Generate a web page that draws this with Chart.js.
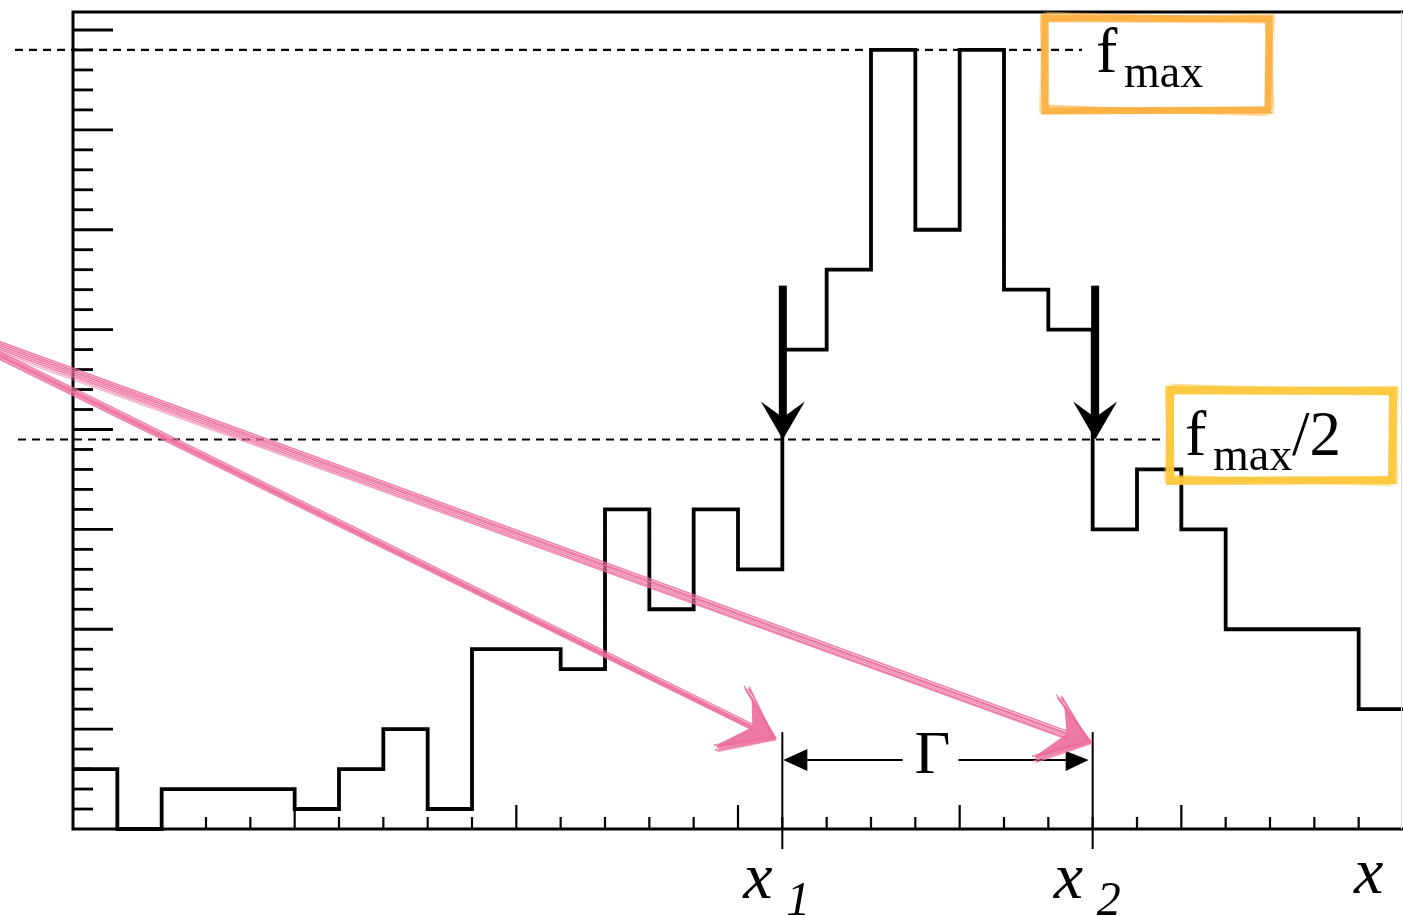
<!DOCTYPE html>
<html>
<head>
<meta charset="utf-8">
<script src="https://cdn.jsdelivr.net/npm/chart.js@4/dist/chart.umd.min.js"></script>
<style>
  html, body { margin: 0; padding: 0; background: #fff; overflow: hidden; }
  canvas { display: block; }
</style>
</head>
<body>
<canvas id="hist" width="1403" height="916"></canvas>
<script>
// Histogram contents, one count per unit-wide bin starting at x = 0
const counts = [3, 0, 2, 2, 2, 1, 3, 5, 1, 9, 9, 8, 16, 11, 16, 13, 24, 28, 39, 30, 39, 27, 25, 15, 18, 15, 10, 10, 10, 6];
// Where the histogram crosses half of its maximum
const crossings = [16, 23];
const crossingLabels = ['1', '2'];
// Axis ranges
const xRange = [0, 30];
const yRange = [0, 40.9];
// Tick spacing (minor step, major every n minor)
const xTickStep = 1, xMajorEvery = 5;
const yTickStep = 1, yMajorEvery = 5;

const fMax = Math.max(...counts);
const fHalf = fMax / 2;

// Step points: each bin value is held until the next edge
const points = counts.map((v, i) => ({ x: xRange[0] + i, y: v }));
points.push({ x: xRange[0] + counts.length, y: counts[counts.length - 1] });

const SERIF = '"Liberation Serif", "DejaVu Serif", serif';
const PINK = '#ec6e9f';

// Hand-drawn looking rectangle: one heavy stroke plus a few loose passes
function sketchRect(ctx, x0, y0, x1, y1, color, width, passes) {
  ctx.save();
  ctx.strokeStyle = color;
  ctx.lineJoin = 'miter';
  ctx.globalAlpha = 0.95;
  ctx.lineWidth = width;
  ctx.beginPath();
  ctx.moveTo(x0, y0); ctx.lineTo(x1, y0 + 1); ctx.lineTo(x1 - 1, y1); ctx.lineTo(x0, y1 + 1); ctx.closePath();
  ctx.stroke();
  passes.forEach(([a, b, c, d, w, al]) => {
    ctx.lineWidth = w;
    ctx.globalAlpha = al;
    ctx.beginPath();
    ctx.moveTo(x0 + a, y0 + b);
    ctx.lineTo(x1 + c, y0 + d);
    ctx.lineTo(x1 + d, y1 + c);
    ctx.lineTo(x0 + b, y1 + a);
    ctx.closePath();
    ctx.stroke();
  });
  ctx.restore();
}

function sketchStroke(ctx, x0, y0, x1, y1, offs) {
  offs.forEach(([a, b, w, al]) => {
    ctx.globalAlpha = al;
    ctx.lineWidth = w;
    ctx.beginPath();
    ctx.moveTo(x0, y0 + a);
    ctx.lineTo(x1, y1 + b);
    ctx.stroke();
  });
  ctx.globalAlpha = 1;
}

function pinkArrow(ctx, start, tip, barbTop, barbBot, notch, offs) {
  ctx.save();
  ctx.strokeStyle = PINK;
  ctx.fillStyle = PINK;
  ctx.lineCap = 'round';
  sketchStroke(ctx, start[0], start[1], notch[0], notch[1], offs);
  // head
  ctx.globalAlpha = 0.92;
  ctx.beginPath();
  ctx.moveTo(tip[0], tip[1]);
  ctx.lineTo(barbTop[0], barbTop[1]);
  ctx.lineTo(barbTop[0] + 4, barbTop[1] + 2);
  ctx.lineTo(notch[0], notch[1]);
  ctx.lineTo(barbBot[0] + 2, barbBot[1] - 4);
  ctx.lineTo(barbBot[0], barbBot[1]);
  ctx.closePath();
  ctx.fill();
  ctx.lineWidth = 1.6;
  ctx.globalAlpha = 0.75;
  [[-2, 1], [2, -1], [0, 3], [-3, -2], [3, 2]].forEach(([dx, dy]) => {
    ctx.beginPath();
    ctx.moveTo(barbTop[0] + dx, barbTop[1] + dy);
    ctx.lineTo(tip[0] + dy * 0.5, tip[1] + dx * 0.5);
    ctx.lineTo(barbBot[0] + dy, barbBot[1] + dx);
    ctx.stroke();
  });
  ctx.restore();
}

const decorations = {
  id: 'decorations',
  afterDraw(chart) {
    const ctx = chart.ctx;
    const a = chart.chartArea;
    const X = v => chart.scales.x.getPixelForValue(v);
    const Y = v => chart.scales.y.getPixelForValue(v);

    ctx.save();
    ctx.lineCap = 'butt';

    // frame
    ctx.strokeStyle = '#000';
    ctx.lineWidth = 3;
    ctx.beginPath();
    ctx.moveTo(a.right, a.top); ctx.lineTo(a.left, a.top); ctx.lineTo(a.left, a.bottom); ctx.lineTo(a.right, a.bottom);
    ctx.stroke();
    ctx.strokeStyle = '#dcdcdc';
    ctx.lineWidth = 1;
    ctx.beginPath(); ctx.moveTo(a.right - 1.5, a.top); ctx.lineTo(a.right - 1.5, a.bottom); ctx.stroke();

    // y ticks (inward)
    ctx.strokeStyle = '#000';
    ctx.lineWidth = 2.8;
    for (let v = yRange[0] + yTickStep, k = 1; v < yRange[1]; v += yTickStep, k++) {
      const len = (k % yMajorEvery === 0) ? 40 : 20;
      ctx.beginPath(); ctx.moveTo(a.left, Y(v)); ctx.lineTo(a.left + len, Y(v)); ctx.stroke();
    }
    // x ticks (inward)
    ctx.lineWidth = 2.2;
    for (let v = xRange[0] + xTickStep, k = 1; v < xRange[1]; v += xTickStep, k++) {
      const len = (k % xMajorEvery === 0) ? 24 : 12;
      ctx.beginPath(); ctx.moveTo(X(v), a.bottom); ctx.lineTo(X(v), a.bottom - len); ctx.stroke();
    }

    // dashed reference levels
    ctx.lineWidth = 2.2;
    ctx.setLineDash([8, 6]);
    ctx.beginPath(); ctx.moveTo(15, Y(fMax)); ctx.lineTo(1082, Y(fMax)); ctx.stroke();
    ctx.beginPath(); ctx.moveTo(18, Y(fHalf)); ctx.lineTo(1168, Y(fHalf)); ctx.stroke();
    ctx.setLineDash([]);

    // thick arrows down to the half-maximum crossings
    ctx.fillStyle = '#000';
    crossings.forEach((c, i) => {
      const x = X(c) + (i === 0 ? 0.5 : 2.5);
      const tipY = Y(fHalf);
      ctx.fillRect(x - 4, Y(27.2), 8, tipY - 20 - Y(27.2));
      ctx.beginPath();
      ctx.moveTo(x, tipY);
      ctx.lineTo(x + 22, tipY - 38);
      ctx.lineTo(x, tipY - 22);
      ctx.lineTo(x - 22, tipY - 38);
      ctx.closePath();
      ctx.fill();
    });

    // crossing markers
    ctx.lineWidth = 2;
    crossings.forEach(c => {
      ctx.beginPath(); ctx.moveTo(X(c), Y(4.85)); ctx.lineTo(X(c), a.bottom + 20); ctx.stroke();
    });

    // width arrow
    const gy = Y(3.45);
    const xl = X(crossings[0]), xr = X(crossings[1]);
    ctx.font = '62px ' + SERIF;
    const gw = ctx.measureText('\u0393').width;
    const gc = (xl + xr) / 2 - 5;
    ctx.beginPath(); ctx.moveTo(xl + 20, gy); ctx.lineTo(gc - gw / 2 - 12, gy); ctx.stroke();
    ctx.beginPath(); ctx.moveTo(gc + gw / 2 + 8, gy); ctx.lineTo(xr - 20, gy); ctx.stroke();
    ctx.beginPath(); ctx.moveTo(xl + 1, gy); ctx.lineTo(xl + 25, gy - 11); ctx.lineTo(xl + 25, gy + 11); ctx.closePath(); ctx.fill();
    ctx.beginPath(); ctx.moveTo(xr - 4, gy); ctx.lineTo(xr - 27, gy - 9); ctx.lineTo(xr - 27, gy + 11); ctx.closePath(); ctx.fill();
    ctx.textAlign = 'center';
    ctx.textBaseline = 'alphabetic';
    ctx.fillText('\u0393', gc, gy + 13);

    // axis labels
    ctx.textAlign = 'left';
    crossings.forEach((c, i) => {
      ctx.font = 'italic 66px ' + SERIF;
      ctx.fillText('x', X(c) - 39, a.bottom + 69);
      ctx.font = 'italic 48px ' + SERIF;
      ctx.fillText(crossingLabels[i], X(c) + 4, a.bottom + 86);
    });
    ctx.font = 'italic 66px ' + SERIF;
    ctx.fillText('x', 1354, a.bottom + 64);

    // level labels
    ctx.font = '64px ' + SERIF;
    ctx.fillText('f', 1096, 72);
    ctx.font = '46px ' + SERIF;
    ctx.fillText('max', 1124, 87);
    ctx.font = '64px ' + SERIF;
    ctx.fillText('f', 1185, 455);
    ctx.font = '46px ' + SERIF;
    ctx.fillText('max', 1213, 470);
    ctx.font = '63px ' + SERIF;
    ctx.fillText('/2', 1292, 455);

    const boxPasses = [
      [-4, -3, 3, 4, 1.3, 0.7], [2, -5, -2, 2, 1.3, 0.6], [-2, 3, 5, -3, 1.2, 0.6],
      [-5, 1, 4, -4, 1.0, 0.45], [3, 4, -4, 5, 1.0, 0.45], [-1, -6, 6, 1, 0.9, 0.4]
    ];
    sketchRect(ctx, 1045, 18, 1269, 110, '#fdb041', 7, boxPasses);
    sketchRect(ctx, 1170, 390, 1393, 480, '#fec83e', 8, boxPasses);

    // pointer arrows
    const tipA = [X(crossings[0]) - 8, Y(4.55)];
    const tipB = [X(crossings[1]) - 3, Y(4.35)];
    const offsA = [[-4, -3, 1.6, 0.85], [-2, -1, 1.5, 0.9], [0, 0, 1.8, 0.9], [1, 2, 1.5, 0.85], [3, 2, 1.6, 0.85], [4, 3, 1.2, 0.6], [-1, 1, 1.2, 0.6]];
    const offsB = [[-4, -3, 1.6, 0.85], [-2, -1, 1.5, 0.9], [0, 0, 1.8, 0.9], [2, 2, 1.5, 0.85], [4, 4, 1.6, 0.85], [6, 5, 1.3, 0.7], [8, 4, 1.1, 0.5]];
    pinkArrow(ctx, [-10, 351], tipA, [tipA[0] - 27, tipA[1] - 50], [tipA[0] - 58, tipA[1] + 10], [tipA[0] - 22, tipA[1] - 11], offsA);
    pinkArrow(ctx, [-10, 342], tipB, [tipB[0] - 30, tipB[1] - 45], [tipB[0] - 55, tipB[1] + 17], [tipB[0] - 23, tipB[1] - 8], offsB);

    ctx.restore();
  }
};

new Chart(document.getElementById('hist'), {
  type: 'line',
  data: {
    datasets: [{
      data: points,
      stepped: 'before',
      borderColor: '#000',
      borderWidth: 3.8,
      pointRadius: 0,
      fill: false,
      clip: false
    }]
  },
  options: {
    responsive: false,
    devicePixelRatio: 1,
    animation: false,
    events: [],
    layout: { padding: { left: 73, top: 12, right: 0, bottom: 87 } },
    plugins: { legend: { display: false }, title: { display: false }, tooltip: { enabled: false } },
    scales: {
      x: { type: 'linear', min: xRange[0], max: xRange[1], display: false },
      y: { type: 'linear', min: yRange[0], max: yRange[1], display: false }
    }
  },
  plugins: [decorations]
});
</script>
</body>
</html>
